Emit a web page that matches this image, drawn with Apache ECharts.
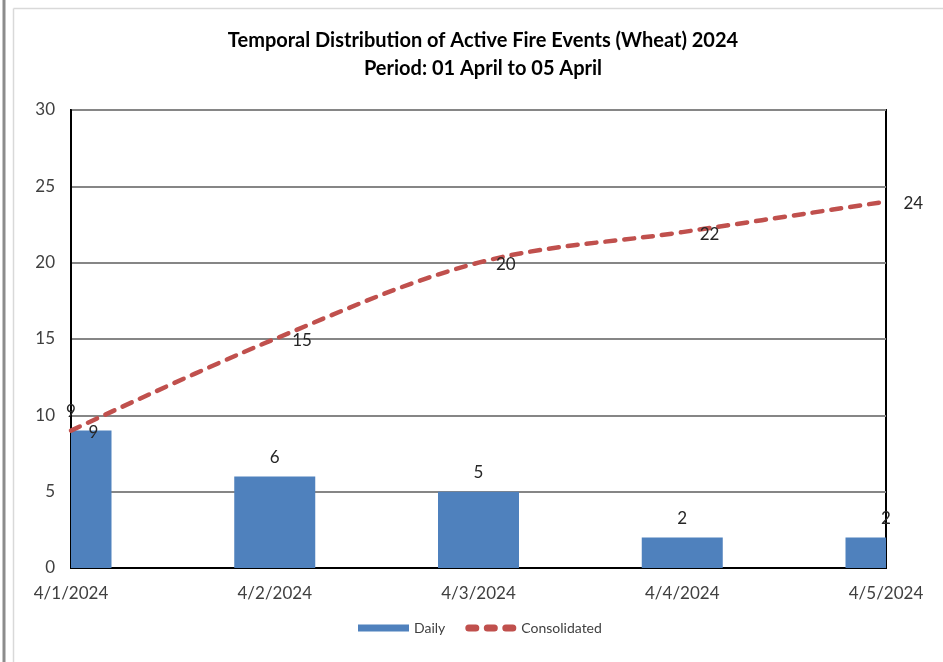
<!DOCTYPE html>
<html>
<head>
<meta charset="utf-8">
<script src="https://cdn.jsdelivr.net/npm/echarts@6/dist/echarts.min.js"></script>
<style>
html,body{margin:0;padding:0;background:#fff;}
#c{width:943px;height:662px;}
</style>
</head>
<body>
<div id="c"></div>
<script>
var categories = ['4/1/2024', '4/2/2024', '4/3/2024', '4/4/2024', '4/5/2024'];
var dailyValues = [9, 6, 5, 2, 2];
var consolidatedValues = [9, 15, 20, 22, 24];
var yTicks = [0, 5, 10, 15, 20, 25, 30];

var FONT = 'Lato';
var BAR_W = 81;
var dashIcon = 'path://' +
  'M3.5,0h7a3.5,3.5 0 0 1 0,7h-7a3.5,3.5 0 0 1 0,-7z' +
  'M22,0h7a3.5,3.5 0 0 1 0,7h-7a3.5,3.5 0 0 1 0,-7z' +
  'M40.5,0h7a3.5,3.5 0 0 1 0,7h-7a3.5,3.5 0 0 1 0,-7z';

var chart = echarts.init(document.getElementById('c'), null, {renderer: 'canvas'});
chart.setOption({
  animation: false,
  backgroundColor: '#fff',
  title: {
    text: 'Temporal Distribution of Active Fire Events (Wheat) 2024\nPeriod: 01 April to 05 April',
    left: 478, top: 22, textAlign: 'center',
    textStyle: {fontFamily: FONT, fontWeight: 'bold', fontSize: 20, color: '#000', lineHeight: 28}
  },
  legend: {
    data: [
      {name: 'Daily', icon: 'rect'},
      {name: 'Consolidated', icon: dashIcon, itemStyle: {color: '#c0504d'}}
    ],
    bottom: 22, left: 353,
    itemWidth: 51, itemHeight: 7, itemGap: 20,
    textStyle: {fontFamily: FONT, fontSize: 14, color: '#404040'}
  },
  grid: {left: 71, right: 57, top: 110, bottom: 94, show: true, borderColor: '#000', borderWidth: 2, backgroundColor: 'transparent'},
  xAxis: {
    type: 'category', data: categories, boundaryGap: false,
    axisLine: {lineStyle: {color: '#000', width: 2}},
    axisTick: {show: false},
    axisLabel: {fontFamily: FONT, fontSize: 17, color: '#404040', margin: 17},
    splitLine: {show: false}
  },
  yAxis: {
    type: 'value', min: yTicks[0], max: yTicks[yTicks.length - 1], interval: 5,
    axisLine: {show: true, lineStyle: {color: '#000', width: 2}},
    axisTick: {show: false},
    axisLabel: {fontFamily: FONT, fontSize: 17, color: '#404040', margin: 16},
    splitLine: {lineStyle: {color: '#868686', width: 2}}
  },
  series: [
    {
      name: 'Daily', type: 'custom',
      data: dailyValues.map(function (v, i) { return [i, v]; }),
      encode: {x: 0, y: 1},
      itemStyle: {color: '#4f81bd'}, z: 2,
      renderItem: function (params, api) {
        var top = api.coord([api.value(0), api.value(1)]);
        var base = api.coord([api.value(0), 0]);
        var cs = params.coordSys;
        var rect = echarts.graphic.clipRectByRect(
          {x: top[0] - BAR_W / 2, y: top[1], width: BAR_W, height: base[1] - top[1]},
          {x: cs.x, y: cs.y, width: cs.width, height: cs.height}
        );
        if (!rect) return null;
        return {type: 'rect', shape: rect, style: api.style({fill: '#4f81bd'})};
      }
    },
    {
      name: 'DailyLabels', type: 'line', data: dailyValues, symbol: 'circle', symbolSize: 1,
      showSymbol: true,
      lineStyle: {width: 0, color: 'rgba(0,0,0,0)'}, itemStyle: {color: 'rgba(0,0,0,0)'}, silent: true, z: 5,
      label: {show: true, position: 'top', distance: 10, fontFamily: FONT, fontSize: 17, color: '#262626'}
    },
    {
      name: 'Consolidated', type: 'line', data: consolidatedValues, smooth: 0.35,
      symbol: 'none',
      lineStyle: {color: '#c0504d', width: 4.5, type: [10, 9], cap: 'round'},
      itemStyle: {color: '#c0504d'}, z: 4
    },
    {
      name: 'ConsolidatedLabels', type: 'line', data: consolidatedValues, symbol: 'circle', symbolSize: 1,
      showSymbol: true,
      lineStyle: {width: 0, color: 'rgba(0,0,0,0)'}, itemStyle: {color: 'rgba(0,0,0,0)'}, silent: true, z: 6,
      label: {show: true, position: 'right', distance: 17, offset: [0, 2], fontFamily: FONT, fontSize: 17, color: '#262626'}
    }
  ],
  graphic: [
    {type: 'line', shape: {x1: 4, y1: 0, x2: 4, y2: 662}, style: {stroke: '#8c8c8c', lineWidth: 3}},
    {type: 'line', shape: {x1: 13.5, y1: 8.5, x2: 13.5, y2: 662}, style: {stroke: '#d9d9d9', lineWidth: 1.5}},
    {type: 'line', shape: {x1: 13.5, y1: 8.5, x2: 943, y2: 8.5}, style: {stroke: '#d9d9d9', lineWidth: 1.5}}
  ]
});
</script>
</body>
</html>
